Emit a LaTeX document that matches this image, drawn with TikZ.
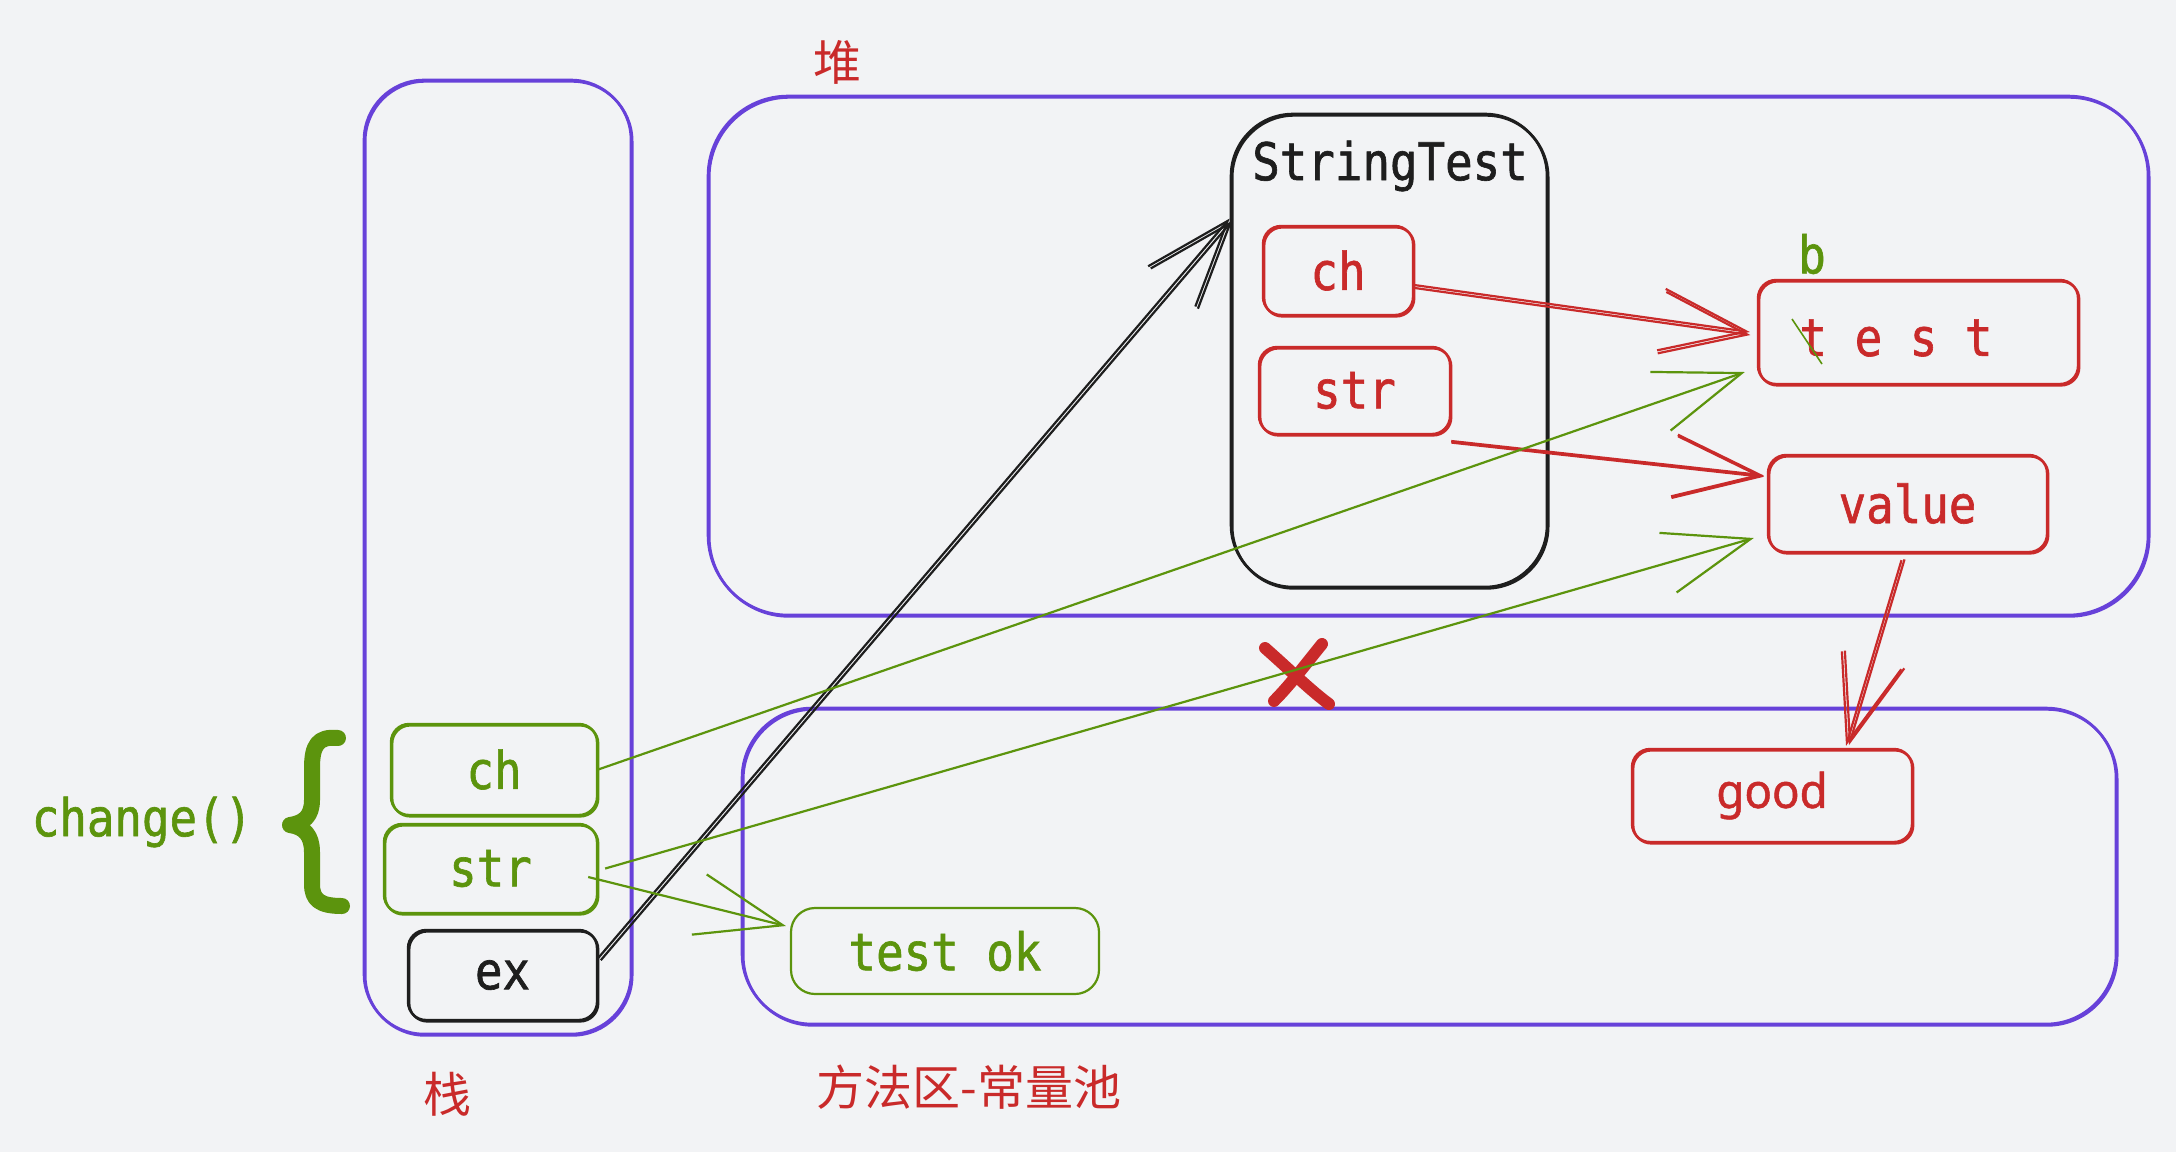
\documentclass[tikz,border=0pt]{standalone}
\usepackage{fontspec}
\usetikzlibrary{arrows.meta}
\newfontfamily\monof[FakeStretch=0.88,FakeBold=1.2]{DejaVu Sans Mono}
\newfontfamily\cjkf{Noto Sans CJK SC}
\newfontfamily\goodf[FakeStretch=0.95,FakeBold=1]{Noto Sans}
\definecolor{bgc}{HTML}{F2F3F5}
\definecolor{vio}{HTML}{6741D9}
\definecolor{redc}{HTML}{C92A2A}
\definecolor{grn}{HTML}{5C940D}
\definecolor{blk}{HTML}{1E1E1E}
\tikzset{
  x=1pt, y=-1pt,
  sk/.style={postaction={draw, transform canvas={shift={(1.2pt,-1.4pt)}}}},
  region/.style={draw=vio, line width=2.6pt, rounded corners=#1, inner sep=0pt, sk},
  boxbase/.style={rounded corners=18pt, line width=2.4pt, inner sep=0pt, font=\monof\fontsize{52}{60}\selectfont},
  redbox/.style={boxbase, draw=redc, text=redc, sk},
  grnbox/.style={boxbase, draw=grn, text=grn, sk},
  blkbox/.style={boxbase, draw=blk, text=blk, sk},
  monotext/.style={inner sep=0pt, font=\monof\fontsize{52}{60}\selectfont},
  cjktext/.style={inner sep=0pt, text=redc, font=\cjkf\fontsize{48}{54}\selectfont},
  barb/.style={-{Straight Barb[length=86pt, width=62pt]}},
  conn/.style={line width=#1},
  dbl/.style={postaction={draw, transform canvas={shift={#1}}}},
}
\begin{document}
\begin{tikzpicture}
\fill[bgc] (0,0) rectangle (2176,1152);
\useasboundingbox (0,0) rectangle (2176,1152);

% regions
\node[region=60pt, minimum width=267pt, minimum height=954pt] (stack) at (497.5,557) {};
\node[region=80pt, minimum width=1440pt, minimum height=519pt] (heap) at (1428,355.5) {};
\node[region=70pt, minimum width=1374pt, minimum height=316pt] (method) at (1429,866) {};

% region labels
\node[cjktext] (lheap) at (837,62) {堆};
\node[cjktext] (lstack) at (447,1094) {栈};
\node[cjktext] (lmethod) at (969,1087) {方法区-常量池};

% StringTest object
\node[draw=blk, line width=2.6pt, rounded corners=62pt, minimum width=316pt, minimum height=473pt, inner sep=0pt, sk] (st) at (1389,350.5) {};
\node[monotext, text=blk] (sttitle) at (1390,166) {StringTest};
\node[redbox, minimum width=150pt, minimum height=89pt] (hch) at (1338,270.5) {ch};
\node[redbox, minimum width=191pt, minimum height=87pt] (hstr) at (1354.5,390.5) {str};

% heap strings
\node[redbox, minimum width=320pt, minimum height=104pt] (test) at (1918,332) {};
\node[monotext, text=redc] (testtxt) at (1896,338) {t e s t};
\node[monotext, text=grn] (lb) at (1812,254) {b};
\draw[grn, line width=1.6pt] (1792,319) -- (1822,364);
\node[redbox, minimum width=279pt, minimum height=97pt] (value) at (1907.5,503.5) {value};

% method area
\node[redbox, minimum width=280pt, minimum height=93pt, font=\goodf\fontsize{48}{56}\selectfont] (good) at (1772,795.5) {good};
\node[boxbase, draw=grn, text=grn, line width=2.2pt, rounded corners=24pt, minimum width=308pt, minimum height=86pt] (testok) at (945,951) {test ok};

% stack frame
\node[grnbox, minimum width=206pt, minimum height=91pt] (sch) at (494,769.5) {ch};
\node[grnbox, minimum width=213pt, minimum height=89pt] (sstr) at (490.5,868.5) {str};
\node[blkbox, minimum width=189pt, minimum height=90pt] (ex) at (502.5,975) {ex};
\node[monotext, text=grn] (lchange) at (142,822) {change()};
\draw[grn, line width=16pt, line cap=round, line join=round]
  (338,738) .. controls (318,736) and (312,745) .. (312,768) -- (312,800)
  .. controls (312,816) and (304,823) .. (290,825)
  .. controls (304,827) and (312,835) .. (312,852) -- (312,884)
  .. controls (312,900) and (320,906) .. (342,906);

% red X
\draw[redc, line width=12pt, line cap=round] (1265,648) .. controls (1290,670) and (1310,690) .. (1329,704);
\draw[redc, line width=12pt, line cap=round] (1322,644) .. controls (1305,665) and (1290,685) .. (1274,701);

% connectors
\draw[blk, conn=2.2pt, barb, dbl={(2.6pt,-2.2pt)}] ([yshift=17pt]ex.east) -- ([yshift=132pt]st.west);
\draw[redc, conn=2.2pt, barb, dbl={(0.6pt,-3pt)}] ([yshift=-14.5pt]hch.east) -- ([xshift=-7pt]test.west);
\draw[redc, conn=2.6pt, barb, dbl={(0.3pt,-1.2pt)}] ([yshift=-6pt]hstr.south east) -- ([xshift=-3pt,yshift=28pt]value.west);
\draw[redc, conn=2.2pt, barb, dbl={(3pt,0.8pt)}] ([xshift=-6pt,yshift=-7pt]value.south) -- ([xshift=74pt,yshift=2pt]good.north);
\draw[grn, conn=2.2pt, barb] (sch.east) -- ([xshift=-12pt,yshift=-40pt]test.west);
\draw[grn, conn=2.2pt, barb] ([xshift=7pt]sstr.east) -- ([xshift=-13pt,yshift=-34.5pt]value.west);
\draw[grn, conn=2.2pt, barb] ([xshift=-10pt,yshift=-8.5pt]sstr.east) -- ([xshift=-4pt,yshift=25pt]testok.west);
\end{tikzpicture}
\end{document}
